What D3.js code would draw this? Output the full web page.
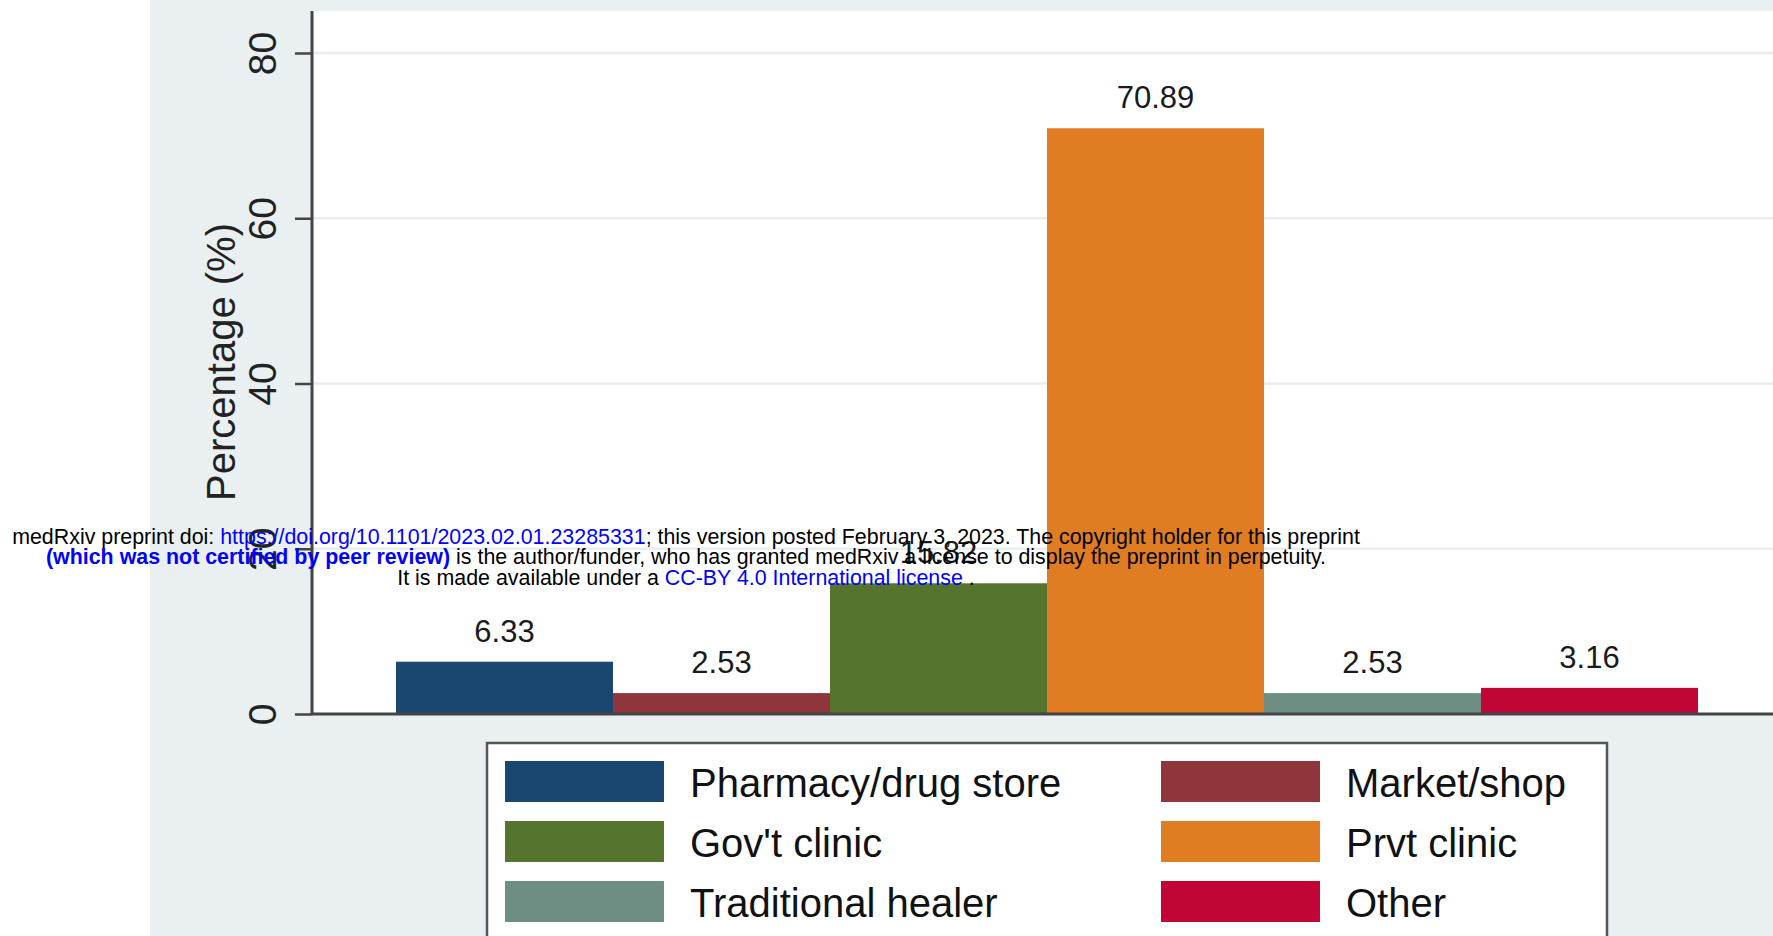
<!DOCTYPE html>
<html>
<head>
<meta charset="utf-8">
<script src="https://cdn.jsdelivr.net/npm/d3@7"></script>
<style>
  body { margin: 0; background: #fff; }
  text { font-family: "Liberation Sans", Arial, sans-serif; }
</style>
</head>
<body>
<script>
var width = 1773,
    height = 936;

// data
var categories = ["Pharmacy/drug store", "Market/shop", "Gov't clinic", "Prvt clinic", "Traditional healer", "Other"];
var values = [6.33, 2.53, 15.82, 70.89, 2.53, 3.16];
var colors = ["#1a476f", "#90353b", "#55752f", "#e07d22", "#6e8e84", "#c10534"];
var yTicks = [0, 20, 40, 60, 80];

var svg = d3.select("body").append("svg")
    .attr("width", width)
    .attr("height", height);

// outer graph region (stata style light background)
svg.append("rect")
    .attr("x", 150).attr("y", 0)
    .attr("width", width - 150).attr("height", height)
    .attr("fill", "#eaf0f2");

var plot = {left: 312, top: 11, right: width, bottom: 714};

svg.append("rect")
    .attr("x", plot.left).attr("y", plot.top)
    .attr("width", plot.right - plot.left).attr("height", plot.bottom - plot.top)
    .attr("fill", "#fff");

var y = d3.scaleLinear().domain([0, 80]).range([plot.bottom, 53]);
var x = d3.scaleBand().domain(categories).range([396, 1698]).paddingInner(0).paddingOuter(0);

/* gridlines */
svg.append("g").selectAll("line")
    .data(yTicks.filter(function (d) { return d > 0; }))
    .enter().append("line")
    .attr("x1", plot.left).attr("x2", plot.right)
    .attr("y1", function (d) { return y(d); })
    .attr("y2", function (d) { return y(d); })
    .attr("stroke", "#e6eef1")
    .attr("stroke-width", 2.5);

/* bars */
svg.append("g").selectAll("rect")
    .data(values)
    .enter().append("rect")
    .attr("x", function (d, i) { return x(categories[i]); })
    .attr("y", function (d) { return y(d); })
    .attr("width", x.bandwidth())
    .attr("height", function (d) { return y(0) - y(d); })
    .attr("fill", function (d, i) { return colors[i]; });

/* value labels */
svg.append("g").selectAll("text")
    .data(values)
    .enter().append("text")
    .attr("x", function (d, i) { return x(categories[i]) + x.bandwidth() / 2; })
    .attr("y", function (d) { return y(d) - 20; })
    .attr("text-anchor", "middle")
    .attr("font-size", 31)
    .attr("fill", "#1a1a1a")
    .text(function (d) { return d.toFixed(2); });

/* y axis */
var yAxis = svg.append("g")
    .attr("transform", "translate(" + plot.left + ",0)")
    .call(d3.axisLeft(y).tickValues(yTicks).tickSize(17).tickSizeOuter(0));
yAxis.select(".domain").remove();
yAxis.selectAll(".tick line").attr("stroke", "#444").attr("stroke-width", 2.5);
yAxis.selectAll(".tick text")
    .attr("font-size", 39)
    .attr("fill", "#222")
    .attr("text-anchor", "middle")
    .attr("transform", "translate(-36,0) rotate(-90)")
    .attr("x", 0).attr("y", 0).attr("dy", 0);

svg.append("line")
    .attr("x1", plot.left).attr("x2", plot.left)
    .attr("y1", plot.top).attr("y2", plot.bottom + 1)
    .attr("stroke", "#444").attr("stroke-width", 3);

svg.append("line")
    .attr("x1", plot.left).attr("x2", plot.right)
    .attr("y1", plot.bottom).attr("y2", plot.bottom)
    .attr("stroke", "#444").attr("stroke-width", 3);

svg.append("text")
    .attr("transform", "translate(235,362) rotate(-90)")
    .attr("text-anchor", "middle")
    .attr("font-size", 40)
    .attr("fill", "#222")
    .text("Percentage (%)");

/* legend */
var legend = svg.append("g");
legend.append("rect")
    .attr("x", 487).attr("y", 743)
    .attr("width", 1120).attr("height", 220)
    .attr("fill", "#fff")
    .attr("stroke", "#555").attr("stroke-width", 2.5);

var legItem = legend.selectAll("g.item")
    .data(categories)
    .enter().append("g")
    .attr("class", "item")
    .attr("transform", function (d, i) {
      var col = i % 2, row = Math.floor(i / 2);
      return "translate(" + (505 + col * 656) + "," + (761 + row * 60) + ")";
    });

legItem.append("rect")
    .attr("width", 159).attr("height", 41)
    .attr("fill", function (d, i) { return colors[i]; });

legItem.append("text")
    .attr("x", 185).attr("y", 36)
    .attr("font-size", 40)
    .attr("fill", "#111")
    .text(function (d) { return d; });

/* medRxiv watermark on top */
var wm = svg.append("g").attr("font-size", 21.4).attr("text-anchor", "middle");
var l1 = wm.append("text").attr("x", 686).attr("y", 544);
l1.append("tspan").attr("fill", "#000").text("medRxiv preprint doi: ");
l1.append("tspan").attr("fill", "#0000ff").text("https://doi.org/10.1101/2023.02.01.23285331");
l1.append("tspan").attr("fill", "#000").text("; this version posted February 3, 2023. The copyright holder for this preprint");

var l2 = wm.append("text").attr("x", 686).attr("y", 564);
l2.append("tspan").attr("fill", "#0000ff").attr("font-weight", "bold").text("(which was not certified by peer review)");
l2.append("tspan").attr("fill", "#000").text(" is the author/funder, who has granted medRxiv a license to display the preprint in perpetuity.");

var l3 = wm.append("text").attr("x", 686).attr("y", 585);
l3.append("tspan").attr("fill", "#000").text("It is made available under a ");
l3.append("tspan").attr("fill", "#0000ff").text("CC-BY 4.0 International license");
l3.append("tspan").attr("fill", "#000").text(" .");
</script>
</body>
</html>
